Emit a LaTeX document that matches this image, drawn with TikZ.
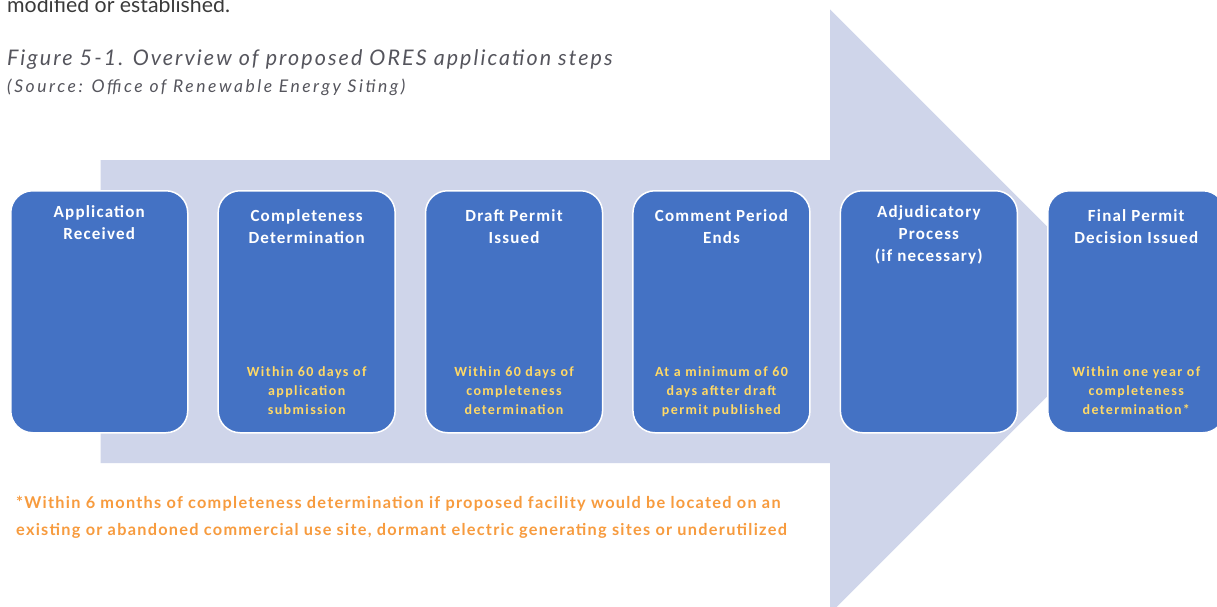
\documentclass[tikz,border=0pt]{standalone}
\usepackage{fontspec}
\usetikzlibrary{calc}
\setmainfont{Carlito}
\newfontfamily\latof{Lato}
\definecolor{arrowfill}{HTML}{CFD5EA}
\definecolor{boxfill}{HTML}{4472C4}
\definecolor{goldtxt}{HTML}{FFD966}
\definecolor{orangetxt}{HTML}{F79B3E}
\definecolor{captiongray}{HTML}{55555D}
\definecolor{bodygray}{HTML}{3A3A3A}
\begin{document}
\begin{tikzpicture}[x=1pt,y=-1pt,
  stepbox/.style={draw=white, line width=1.5pt, fill=boxfill, rounded corners=22pt,
    minimum width=177pt, minimum height=242pt, anchor=north west, inner sep=0pt},
  headtxt/.style={text=white,
    font=\bfseries\fontsize{17}{22}\selectfont\addfontfeature{LetterSpace=7},
    align=center, anchor=north, inner sep=0pt},
  subtxt/.style={text=goldtxt,
    font=\bfseries\fontsize{14}{19}\selectfont\addfontfeature{LetterSpace=10},
    align=center, anchor=north, inner sep=0pt},
  captxt/.style={text=captiongray, anchor=base west, inner sep=0pt},
  notetxt/.style={text=orangetxt,
    font=\latof\bfseries\fontsize{16.3}{27}\selectfont\addfontfeature{LetterSpace=7.8},
    align=left, anchor=base west, inner sep=0pt}
]
\useasboundingbox (0,0) rectangle (1217,607);
\clip (0,0) rectangle (1217,607);
\fill[white] (0,0) rectangle (1217,607);

% big background arrow
\fill[arrowfill] (100.5,160) -- (830,160) -- (830,9.5) -- (1132,311.5)
  -- (830,613.5) -- (830,463) -- (100.5,463) -- cycle;

% caption texts
\node[captxt, text=bodygray, font=\latof\fontsize{21.3}{26}\selectfont] (prev) at (7,12.5) {modified or established.};
\node[captxt, font=\latof\itshape\fontsize{21.5}{26}\selectfont\addfontfeature{LetterSpace=9.5}] (fig) at (7,66) {Figure 5-1. Overview of proposed ORES application steps};
\node[captxt, font=\latof\itshape\fontsize{17.5}{21}\selectfont\addfontfeature{LetterSpace=14.5}] (src) at (7,93) {(Source: Office of Renewable Energy Siting)};

% step boxes
\node[stepbox] (b1) at (10,190) {};
\node[stepbox] (b2) at (217.4,190) {};
\node[stepbox] (b3) at (424.8,190) {};
\node[stepbox] (b4) at (632.2,190) {};
\node[stepbox] (b5) at (839.6,190) {};
\node[stepbox] (b6) at (1047,190) {};

% headings
\node[headtxt] (h1) at ($(b1.north)+(0,15.5)$) {Application\\Received};
\node[headtxt] (h2) at ($(b2.north)+(0,19.5)$) {Completeness\\Determination};
\node[headtxt] (h3) at ($(b3.north)+(0,19.5)$) {Draft Permit\\Issued};
\node[headtxt] (h4) at ($(b4.north)+(0,19.5)$) {Comment Period\\Ends};
\node[headtxt] (h5) at ($(b5.north)+(0,15.5)$) {Adjudicatory\\Process\\(if necessary)};
\node[headtxt] (h6) at ($(b6.north)+(0,19.5)$) {Final Permit\\Decision Issued};

% time limits
\node[subtxt] (s2) at ($(b2.north)+(0,176.5)$) {Within 60 days of\\application\\submission};
\node[subtxt] (s3) at ($(b3.north)+(0,176.5)$) {Within 60 days of\\completeness\\determination};
\node[subtxt] (s4) at ($(b4.north)+(0,176.5)$) {At a minimum of 60\\days aftter draft\\permit published};
\node[subtxt] (s6) at ($(b6.north)+(0,176.5)$) {Within one year of\\completeness\\determination*};

% footnote
\node[notetxt] (note) at (16,535) {*Within 6 months of completeness determination if proposed facility would be located on an\\existing or abandoned commercial use site, dormant electric generating sites or underutilized};
\end{tikzpicture}
\end{document}
